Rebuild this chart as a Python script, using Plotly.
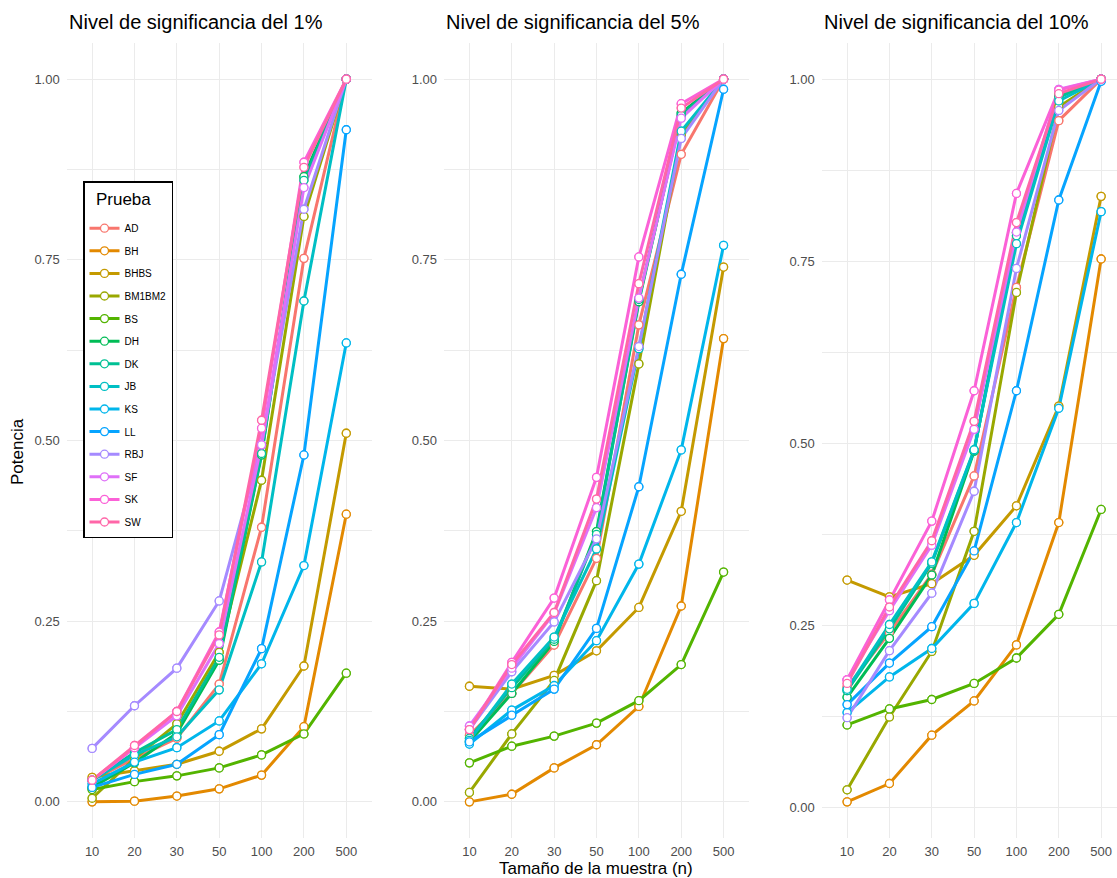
import plotly.graph_objects as go
import numpy as np

sample_sizes = ["10", "20", "30", "50", "100", "200", "500"]
tests = ["AD", "BH", "BHBS", "BM1BM2", "BS", "DH", "DK", "JB", "KS", "LL", "RBJ", "SF", "SK", "SW"]
colors = ["#F8766D", "#E38900", "#C49A00", "#99A800", "#53B400", "#00BC56", "#00C094",
          "#00BFC4", "#00B6EB", "#06A4FF", "#A58AFF", "#DF70F8", "#FB61D7", "#FF66A8"]
panel_titles = ["Nivel de significancia del 1%", "Nivel de significancia del 5%", "Nivel de significancia del 10%"]
y_ticks = [0, 0.25, 0.5, 0.75, 1.0]
y_ticklabels = ["0.00", "0.25", "0.50", "0.75", "1.00"]

power_1pct = {
    "AD":     [0.030, 0.060, 0.088, 0.163, 0.380, 0.752, 1.000],
    "BH":     [0.000, 0.001, 0.008, 0.018, 0.037, 0.104, 0.398],
    "BHBS":   [0.034, 0.043, 0.052, 0.070, 0.101, 0.188, 0.510],
    "BM1BM2": [0.005, 0.060, 0.108, 0.207, 0.445, 0.810, 1.000],
    "BS":     [0.017, 0.028, 0.036, 0.047, 0.065, 0.094, 0.178],
    "DH":     [0.020, 0.054, 0.095, 0.196, 0.480, 0.865, 1.000],
    "DK":     [0.030, 0.068, 0.100, 0.200, 0.482, 0.860, 1.000],
    "JB":     [0.030, 0.065, 0.090, 0.155, 0.332, 0.693, 1.000],
    "KS":     [0.025, 0.055, 0.075, 0.112, 0.191, 0.327, 0.635],
    "LL":     [0.020, 0.038, 0.052, 0.093, 0.212, 0.480, 0.930],
    "RBJ":    [0.074, 0.133, 0.185, 0.278, 0.494, 0.820, 1.000],
    "SF":     [0.030, 0.075, 0.119, 0.219, 0.494, 0.850, 1.000],
    "SK":     [0.030, 0.075, 0.125, 0.235, 0.517, 0.885, 1.000],
    "SW":     [0.030, 0.078, 0.125, 0.231, 0.528, 0.878, 1.000],
}

power_5pct = {
    "AD":     [0.092, 0.150, 0.217, 0.337, 0.660, 0.896, 1.000],
    "BH":     [0.000, 0.0105, 0.047, 0.079, 0.132, 0.271, 0.641],
    "BHBS":   [0.160, 0.156, 0.175, 0.209, 0.269, 0.402, 0.740],
    "BM1BM2": [0.013, 0.094, 0.168, 0.306, 0.606, 0.923, 1.000],
    "BS":     [0.054, 0.077, 0.091, 0.109, 0.140, 0.190, 0.318],
    "DH":     [0.083, 0.150, 0.222, 0.374, 0.692, 0.953, 1.000],
    "DK":     [0.088, 0.158, 0.225, 0.370, 0.695, 0.950, 1.000],
    "JB":     [0.085, 0.163, 0.228, 0.350, 0.627, 0.928, 1.000],
    "KS":     [0.080, 0.127, 0.161, 0.223, 0.329, 0.487, 0.770],
    "LL":     [0.083, 0.120, 0.156, 0.240, 0.436, 0.730, 0.986],
    "RBJ":    [0.100, 0.180, 0.249, 0.364, 0.630, 0.918, 1.000],
    "SF":     [0.105, 0.185, 0.261, 0.407, 0.697, 0.946, 1.000],
    "SK":     [0.100, 0.193, 0.282, 0.449, 0.754, 0.966, 1.000],
    "SW":     [0.100, 0.190, 0.262, 0.419, 0.717, 0.960, 1.000],
}

power_10pct = {
    "AD":     [0.165, 0.240, 0.320, 0.455, 0.714, 0.943, 1.000],
    "BH":     [0.0074, 0.0326, 0.099, 0.146, 0.223, 0.391, 0.753],
    "BHBS":   [0.312, 0.289, 0.307, 0.346, 0.414, 0.551, 0.839],
    "BM1BM2": [0.024, 0.124, 0.214, 0.379, 0.707, 0.962, 1.000],
    "BS":     [0.113, 0.135, 0.148, 0.170, 0.205, 0.265, 0.409],
    "DH":     [0.151, 0.232, 0.319, 0.489, 0.789, 0.978, 1.000],
    "DK":     [0.160, 0.245, 0.335, 0.490, 0.785, 0.975, 1.000],
    "JB":     [0.162, 0.251, 0.337, 0.491, 0.774, 0.970, 1.000],
    "KS":     [0.130, 0.179, 0.218, 0.280, 0.391, 0.548, 0.818],
    "LL":     [0.141, 0.198, 0.248, 0.352, 0.572, 0.834, 0.997],
    "RBJ":    [0.123, 0.215, 0.294, 0.434, 0.740, 0.957, 1.000],
    "SF":     [0.175, 0.270, 0.360, 0.519, 0.790, 0.986, 1.000],
    "SK":     [0.175, 0.285, 0.393, 0.572, 0.843, 0.985, 1.000],
    "SW":     [0.170, 0.275, 0.366, 0.530, 0.803, 0.980, 1.000],
}

panels = [power_1pct, power_5pct, power_10pct]

W, H = 1117, 878
FONT = "Liberation Sans, Arial, sans-serif"
GRID = "#EBEBEB"

x_domains_px = [(66.7, 371.7), (444.0, 749.0), (821.7, 1117.0)]
x_ranges = [[-0.6, 6.6], [-0.6, 6.6], [-0.6, 6.375]]
y_top_px, y_bot_px = 43, 838
y_domain = [1 - y_bot_px / H, 1 - y_top_px / H]

fig = go.Figure()

for p, data in enumerate(panels):
    xa = "x" if p == 0 else f"x{p + 1}"
    ya = "y" if p == 0 else f"y{p + 1}"
    for i, t in enumerate(tests):
        fig.add_trace(go.Scatter(
            x=sample_sizes, y=data[t], mode="lines+markers", name=t,
            legendgroup=t, showlegend=(p == 0),
            line=dict(color=colors[i], width=3),
            marker=dict(size=8, color="white", line=dict(color=colors[i], width=1.3)),
            xaxis=xa, yaxis=ya, hoverinfo="skip"))
    for i, t in enumerate(tests):
        fig.add_trace(go.Scatter(
            x=sample_sizes, y=data[t], mode="markers", name=t,
            legendgroup=t, showlegend=False,
            marker=dict(size=8, color="white", line=dict(color=colors[i], width=1.3)),
            xaxis=xa, yaxis=ya, hoverinfo="skip"))

layout = dict(
    width=W, height=H, margin=dict(l=0, r=0, t=0, b=0),
    paper_bgcolor="white", plot_bgcolor="white",
    font=dict(family=FONT, color="black"),
    showlegend=True,
    legend=dict(
        x=83 / W, y=1 - 181 / H, xanchor="left", yanchor="top",
        bgcolor="white", bordercolor="black", borderwidth=1.5,
        title=dict(text="<span style='font-size:17px;baseline-shift:-7px'>\u00a0\u00a0Prueba</span><br>\u00a0",
                   font=dict(size=12, color="black")),
        font=dict(size=10, color="black"),
        tracegroupgap=3.6, traceorder="grouped",
    ),
)

for p, data in enumerate(panels):
    sx = "" if p == 0 else str(p + 1)
    vals = np.array([v for t in tests for v in data[t]])
    lo, hi = vals.min(), vals.max()
    pad = 0.05 * (hi - lo)
    x0, x1 = x_domains_px[p]
    layout[f"xaxis{sx}"] = dict(
        domain=[x0 / W, x1 / W], anchor=f"y{sx}", type="category",
        categoryorder="array", categoryarray=sample_sizes, range=x_ranges[p],
        showgrid=True, gridcolor=GRID, gridwidth=1.1, zeroline=False, showline=False,
        ticks="", ticklabelstandoff=4,
        tickfont=dict(size=13, color="#4D4D4D", family=FONT),
    )
    layout[f"yaxis{sx}"] = dict(
        domain=y_domain, anchor=f"x{sx}", range=[lo - pad, hi + pad],
        tickmode="array", tickvals=y_ticks, ticktext=y_ticklabels,
        showgrid=True, gridcolor=GRID, gridwidth=1.1, zeroline=False, showline=False,
        ticks="", ticklabelstandoff=6,
        tickfont=dict(size=13, color="#4D4D4D", family=FONT),
        minor=dict(tickmode="linear", tick0=0, dtick=0.125, showgrid=True,
                   gridcolor=GRID, gridwidth=0.55, ticks=""),
    )

annotations = []
for p, title in enumerate(panel_titles):
    annotations.append(dict(
        text=title, x=x_domains_px[p][0] / W, y=1 - 22 / H, xref="paper", yref="paper",
        xanchor="left", yanchor="middle", showarrow=False,
        font=dict(size=20, color="black", family=FONT)))
annotations.append(dict(
    text="Potencia", x=17 / W, y=1 - 452 / H, xref="paper", yref="paper",
    xanchor="center", yanchor="middle", textangle=-90, showarrow=False,
    font=dict(size=17, color="black", family=FONT)))
annotations.append(dict(
    text="Tamaño de la muestra (n)", x=596 / W, y=1 - 868 / H, xref="paper", yref="paper",
    xanchor="center", yanchor="middle", showarrow=False,
    font=dict(size=17, color="black", family=FONT)))
layout["annotations"] = annotations

fig.update_layout(**layout)
fig.write_html("out.html")
